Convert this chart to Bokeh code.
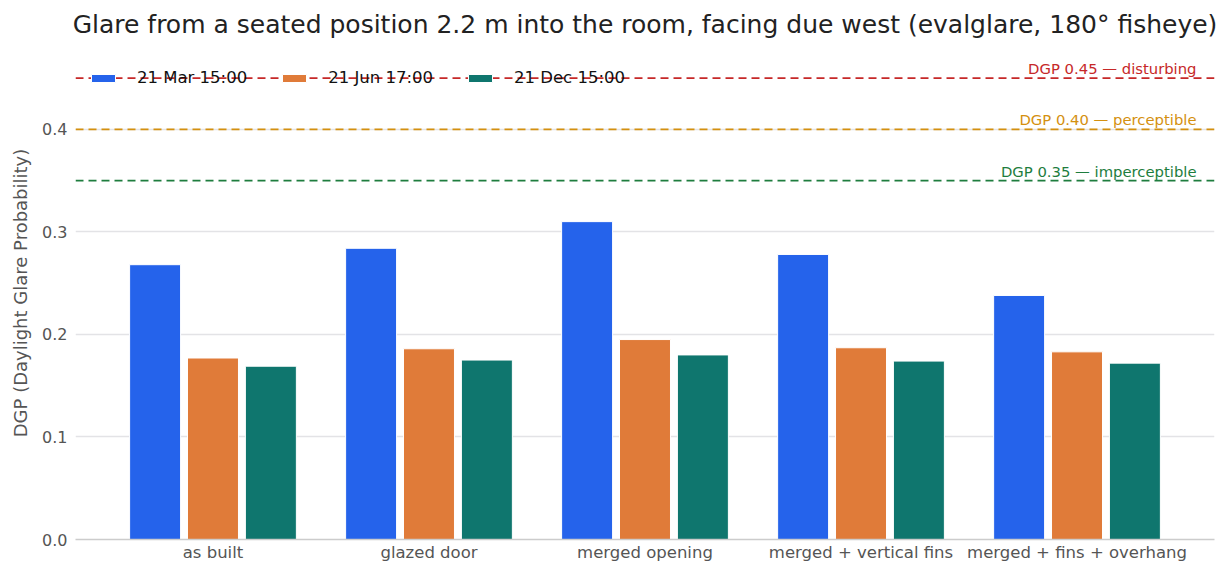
from bokeh.plotting import figure
from bokeh.models import FactorRange, Span, Label, Legend, LegendItem, ColumnDataSource, NumeralTickFormatter
from bokeh.transform import dodge
from bokeh.embed import file_html
from bokeh.resources import INLINE

categories = ["as built", "glazed door", "merged opening", "merged + vertical fins", "merged + fins + overhang"]
series_names = ["21 Mar 15:00", "21 Jun 17:00", "21 Dec 15:00"]
mar = [0.268, 0.284, 0.310, 0.278, 0.238]
jun = [0.177, 0.186, 0.195, 0.187, 0.183]
dec = [0.169, 0.175, 0.180, 0.174, 0.172]
colors = ["#2563eb", "#e07b39", "#0f766e"]
thresholds = [0.45, 0.40, 0.35]
threshold_labels = ["DGP 0.45 — disturbing", "DGP 0.40 — perceptible", "DGP 0.35 — imperceptible"]
threshold_colors = ["#c62828", "#d4900f", "#1e7d3e"]

FONT = "DejaVu Sans"

src = ColumnDataSource(dict(cat=categories, mar=mar, jun=jun, dec=dec))

p = figure(x_range=FactorRange(*categories, range_padding=0.0546), y_range=(0, 0.4808),
           width=1216, height=564, output_backend="svg", toolbar_location=None,
           title="Glare from a seated position 2.2 m into the room, facing due west (evalglare, 180° fisheye)")
p.min_border_left = 75
p.min_border_right = 2
p.min_border_top = 10
p.min_border_bottom = 24

p.title.align = "center"
p.title.vertical_align = "bottom"
p.title.text_font = FONT
p.title.text_font_size = "25px"
p.title.text_font_style = "normal"
p.title.text_color = "#222222"
p.title.standoff = 15

p.outline_line_color = None
p.xgrid.grid_line_color = None
p.ygrid.grid_line_color = "#e3e3e6"
p.ygrid.grid_line_width = 1.5

p.yaxis.axis_label = "DGP (Daylight Glare Probability)"
p.yaxis.axis_label_text_font = FONT
p.yaxis.axis_label_text_font_size = "18px"
p.yaxis.axis_label_text_font_style = "normal"
p.yaxis.axis_label_text_color = "#555555"
p.yaxis.axis_label_standoff = 8
p.yaxis.axis_line_color = None
p.yaxis.major_tick_line_color = None
p.yaxis.minor_tick_line_color = None
p.yaxis.major_tick_out = 0
p.yaxis.major_tick_in = 0
p.yaxis.minor_tick_out = 0
p.yaxis.major_label_standoff = 8
p.yaxis.major_label_text_font = FONT
p.yaxis.major_label_text_font_size = "16px"
p.yaxis.major_label_text_color = "#555555"
p.yaxis.ticker = [0, 0.1, 0.2, 0.3, 0.4]
p.yaxis.formatter = NumeralTickFormatter(format="0.0")

p.xaxis.axis_line_color = "#cccccc"
p.xaxis.axis_line_width = 1.5
p.xaxis.major_tick_line_color = None
p.xaxis.minor_tick_line_color = None
p.xaxis.major_tick_out = 0
p.xaxis.major_tick_in = 0
p.xaxis.minor_tick_out = 0
p.xaxis.major_label_standoff = 3
p.xaxis.major_label_text_font = FONT
p.xaxis.major_label_text_font_size = "16.5px"
p.xaxis.major_label_text_color = "#555555"

renderers = []
for key, off, col in zip(["mar", "jun", "dec"], [-0.268, 0.0, 0.268], colors):
    r = p.vbar(x=dodge("cat", off, range=p.x_range), top=key, width=0.236, source=src,
               fill_color=col, line_color="white", line_width=1)
    renderers.append(r)

for t, lab, c in zip(thresholds, threshold_labels, threshold_colors):
    p.add_layout(Span(location=t, dimension="width", line_color=c, line_dash="8 5", line_width=1.8))
    p.add_layout(Label(x=1121, y=t, x_units="screen", y_units="data", text=lab, text_align="right",
                       text_baseline="bottom", y_offset=1, text_font=FONT, text_font_size="14.8px", text_color=c))

legend = Legend(items=[LegendItem(label=n, renderers=[r]) for n, r in zip(series_names, renderers)],
                orientation="horizontal", location=(6, 445))
legend.background_fill_alpha = 0
legend.border_line_alpha = 0
legend.label_text_font = FONT
legend.label_text_font_size = "16.5px"
legend.label_text_color = "#111111"
legend.glyph_width = 30
legend.glyph_height = 10
legend.spacing = 32
legend.label_standoff = 19
legend.margin = 0
legend.padding = 7
p.add_layout(legend)

open("out.html", "w").write(file_html(p, INLINE))
